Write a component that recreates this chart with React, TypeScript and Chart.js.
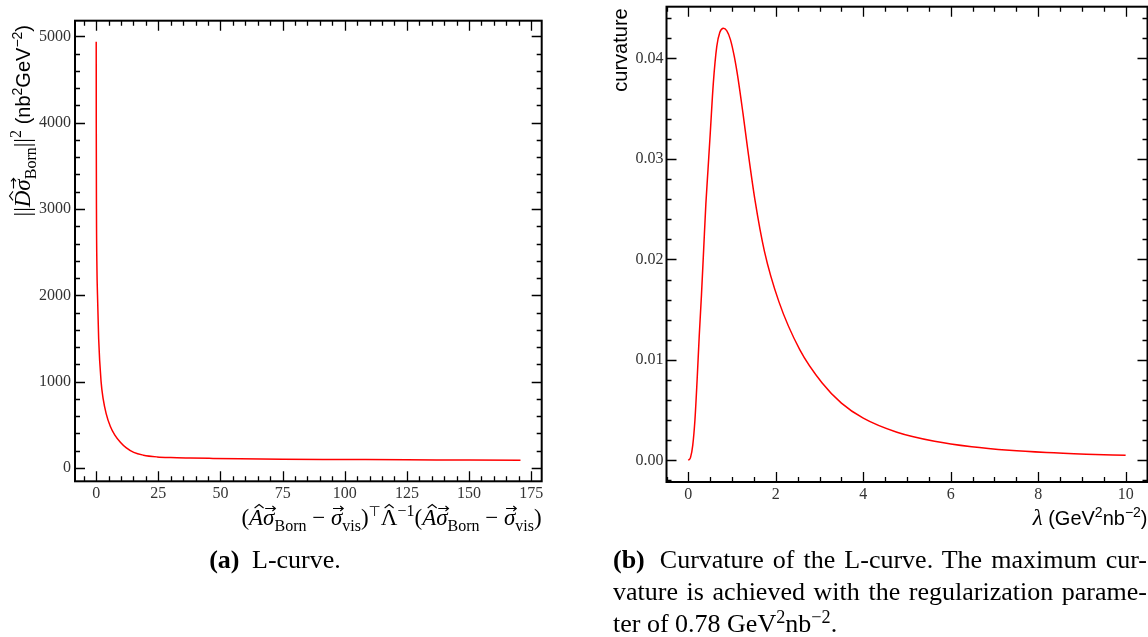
import React, { useEffect, useRef } from 'react';
import { Chart, registerables } from 'chart.js';

Chart.register(...registerables);

// ---------- data ----------
// (a) L-curve: residual term (x) vs regularisation norm (y)
const lcurveResidual = [0, 0.02, 0.1, 0.3, 0.52, 0.98, 1.96, 2.8, 4.0, 5.7, 7.5, 9.8, 12, 15.1, 19, 24.5, 30, 37.8, 47, 57.9, 75, 100, 125, 150, 170.7];
const lcurveNorm = [4939, 4000, 3000, 2300, 2000, 1500, 1000, 800, 630, 480, 380, 295, 235, 180, 148, 128, 120, 115, 111, 107, 102, 98, 94, 91, 88];
const lcurveXTicks = [0, 25, 50, 75, 100, 125, 150, 175];
const lcurveYTicks = [0, 1000, 2000, 3000, 4000, 5000];

// (b) curvature vs lambda
const lambdaValues = [0, 0.05, 0.1, 0.15, 0.2, 0.25, 0.3, 0.35, 0.4, 0.45, 0.5, 0.57, 0.65, 0.72, 0.8, 0.88, 0.96, 1.05, 1.14, 1.25, 1.35, 1.52, 1.74, 2.07, 2.55, 3.06, 3.5, 4.0, 4.77, 5.63, 6.48, 7.34, 8.19, 9.1, 10];
const curvatureValues = [0, 0.0003, 0.0015, 0.004, 0.008, 0.0125, 0.0165, 0.021, 0.0255, 0.029, 0.0325, 0.0375, 0.0412, 0.0426, 0.043, 0.04275, 0.0419, 0.0402, 0.0379, 0.0345, 0.0312, 0.026, 0.0208, 0.0158, 0.011, 0.0077, 0.0057, 0.0042, 0.0028, 0.0019, 0.00135, 0.001, 0.00078, 0.00062, 0.0005];
const curvXTicks = [0, 2, 4, 6, 8, 10];
const curvYTicks = [0, 0.01, 0.02, 0.03, 0.04];
const curvYTickLabels = ['0.00', '0.01', '0.02', '0.03', '0.04'];

// ---------- styling ----------
const SERIF = "'Liberation Serif', 'DejaVu Serif', serif";
const SANS = "'Liberation Sans', 'DejaVu Sans', sans-serif";
const M = 23; // math font size
const SUB = 16; // sub/superscript size
const SF = 20; // sans label size
const SFS = 14;

type Seg = { t: string; font: string; dy?: number; acc?: 'hat' | 'vec'; skew?: number };
const it = (t: string, acc?: 'hat' | 'vec', skew = 0): Seg => ({ t, font: `italic ${M}px ${SERIF}`, acc, skew });
const rm = (t: string, acc?: 'hat' | 'vec', skew = 0): Seg => ({ t, font: `${M}px ${SERIF}`, acc, skew });
const sub = (t: string): Seg => ({ t, font: `${SUB}px ${SERIF}`, dy: 5.5 });
const sup = (t: string): Seg => ({ t, font: `${SUB}px ${SERIF}`, dy: -9 });
const supSym = (t: string): Seg => ({ t, font: `${SUB - 2}px 'DejaVu Sans'`, dy: -9 });
const sf = (t: string): Seg => ({ t, font: `${SF}px ${SANS}` });
const sfsup = (t: string): Seg => ({ t, font: `${SFS}px ${SANS}`, dy: -8 });

const residualGroup: Seg[] = [rm('('), it('A', 'hat', 3), it('σ', 'vec', 1.5), sub('Born'), rm(' − '), it('σ', 'vec', 1.5), sub('vis'), rm(')')];
const leftXTitle: Seg[] = [...residualGroup, supSym('⊤'), rm('Λ', 'hat', 0), sup('−1'), ...residualGroup];
const leftYTitle: Seg[] = [rm('||'), it('D', 'hat', 3), it('σ', 'vec', 1.5), sub('Born'), rm('||'), sup('2'), rm(' '), sf('(nb'), sfsup('2'), sf('GeV'), sfsup('−2'), sf(')')];
const rightXTitle: Seg[] = [it('λ'), sf(' (GeV'), sfsup('2'), sf('nb'), sfsup('−2'), sf(')')];
const rightYTitle: Seg[] = [sf('curvature')];

function drawRich(ctx: CanvasRenderingContext2D, segs: Seg[], x: number, y: number, rotate: boolean) {
  ctx.save();
  ctx.translate(x, y);
  if (rotate) ctx.rotate(-Math.PI / 2);
  ctx.textAlign = 'left';
  ctx.textBaseline = 'alphabetic';
  ctx.fillStyle = '#000';
  ctx.strokeStyle = '#000';
  let total = 0;
  const ws = segs.map((s) => {
    ctx.font = s.font;
    const w = ctx.measureText(s.t).width;
    total += w;
    return w;
  });
  let cx = -total;
  segs.forEach((s, i) => {
    ctx.font = s.font;
    const dy = s.dy || 0;
    ctx.fillText(s.t, cx, dy);
    if (s.acc) {
      const m = ctx.measureText(s.t);
      const top = dy - m.actualBoundingBoxAscent;
      const mid = cx + ws[i] / 2 + (s.skew || 0);
      ctx.lineWidth = 1.1;
      ctx.beginPath();
      if (s.acc === 'hat') {
        const base = top - 2;
        ctx.moveTo(mid - 4.5, base);
        ctx.lineTo(mid, base - 3.5);
        ctx.lineTo(mid + 4.5, base);
      } else {
        const hl = ws[i] * 0.45;
        const yv = top - 3.5;
        ctx.moveTo(mid - hl, yv);
        ctx.lineTo(mid + hl, yv);
        ctx.moveTo(mid + hl - 3, yv - 2.5);
        ctx.lineTo(mid + hl, yv);
        ctx.lineTo(mid + hl - 3, yv + 2.5);
      }
      ctx.stroke();
    }
    cx += ws[i];
  });
  ctx.restore();
}

type PanelCfg = {
  xs: number[];
  ys: number[];
  xTicks: number[];
  yTicks: number[];
  yLabels?: string[];
  xMinor: number;
  yMinor: number;
  canvasLeft: number;
  canvasTop: number;
  W: number;
  H: number;
  area: { l: number; t: number; r: number; b: number };
  xTitle: Seg[];
  yTitle: Seg[];
  xTitlePos: [number, number];
  yTitlePos: [number, number];
  yTickPad: number;
};

function minorValues(min: number, max: number, step: number, majors: number[]) {
  const out: number[] = [];
  const k0 = Math.ceil(min / step);
  const k1 = Math.floor(max / step);
  for (let k = k0; k <= k1; k++) {
    const v = k * step;
    if (!majors.some((m) => Math.abs(m - v) < step * 1e-6)) out.push(v);
  }
  return out;
}

function Panel({ cfg }: { cfg: PanelCfg }) {
  const ref = useRef<HTMLCanvasElement | null>(null);
  useEffect(() => {
    const canvas = ref.current!;
    const xMinD = Math.min(...cfg.xs), xMaxD = Math.max(...cfg.xs);
    const yMinD = Math.min(...cfg.ys), yMaxD = Math.max(...cfg.ys);
    const xm = (xMaxD - xMinD) * 0.05, ym = (yMaxD - yMinD) * 0.05;
    const xMin = xMinD - xm, xMax = xMaxD + xm, yMin = yMinD - ym, yMax = yMaxD + ym;
    const ox = cfg.canvasLeft, oy = cfg.canvasTop;

    const decor = {
      id: 'decor',
      afterDraw(chart: any) {
        const { ctx, chartArea: a, scales } = chart;
        const xs = scales.x, ys = scales.y;
        ctx.save();
        ctx.strokeStyle = '#000';
        ctx.lineWidth = 1.3;
        const xMaj = cfg.xTicks, yMaj = cfg.yTicks;
        const xMin2 = minorValues(xMin, xMax, cfg.xMinor, xMaj);
        const yMin2 = minorValues(yMin, yMax, cfg.yMinor, yMaj);
        ctx.beginPath();
        const vx = (list: number[], len: number) => {
          list.forEach((v) => {
            const p = Math.round(xs.getPixelForValue(v)) + 0.5;
            ctx.moveTo(p, a.bottom);
            ctx.lineTo(p, a.bottom - len);
            ctx.moveTo(p, a.top);
            ctx.lineTo(p, a.top + len);
          });
        };
        const vy = (list: number[], len: number) => {
          list.forEach((v) => {
            const p = Math.round(ys.getPixelForValue(v)) + 0.5;
            ctx.moveTo(a.left, p);
            ctx.lineTo(a.left + len, p);
            ctx.moveTo(a.right, p);
            ctx.lineTo(a.right - len, p);
          });
        };
        vx(xMaj, 10);
        vx(xMin2, 5);
        vy(yMaj, 10);
        vy(yMin2, 5);
        ctx.stroke();
        ctx.lineWidth = 2;
        ctx.strokeRect(a.left, a.top, a.right - a.left, a.bottom - a.top);
        ctx.restore();
        drawRich(ctx, cfg.xTitle, cfg.xTitlePos[0] - ox, cfg.xTitlePos[1] - oy, false);
        drawRich(ctx, cfg.yTitle, cfg.yTitlePos[0] - ox, cfg.yTitlePos[1] - oy, true);
      },
    };

    const tickFont = { family: SERIF, size: 16 };
    const chart = new Chart(canvas, {
      type: 'line',
      data: {
        datasets: [
          {
            data: cfg.xs.map((x, i) => ({ x, y: cfg.ys[i] })),
            borderColor: '#ff0000',
            borderWidth: 1.5,
            pointRadius: 0,
            fill: false,
            cubicInterpolationMode: 'monotone',
          },
        ],
      },
      options: {
        animation: false,
        responsive: false,
        events: [],
        layout: {
          padding: { top: cfg.area.t - oy, right: cfg.W - (cfg.area.r - ox), left: 0, bottom: 0 },
        },
        plugins: { legend: { display: false }, tooltip: { enabled: false } },
        scales: {
          x: {
            type: 'linear',
            min: xMin,
            max: xMax,
            grid: { display: false, drawTicks: false, tickLength: 0 },
            border: { display: false },
            ticks: {
              padding: 3,
              font: tickFont,
              color: '#333',
              maxRotation: 0,
              autoSkip: false,
              includeBounds: false,
              callback: (v: any) => String(v),
            },
            afterBuildTicks: (s: any) => {
              s.ticks = cfg.xTicks.map((v) => ({ value: v }));
            },
            afterFit: (s: any) => {
              s.height = cfg.H - (cfg.area.b - oy);
            },
          },
          y: {
            type: 'linear',
            min: yMin,
            max: yMax,
            grid: { display: false, drawTicks: false, tickLength: 0 },
            border: { display: false },
            ticks: {
              padding: cfg.yTickPad,
              font: tickFont,
              color: '#333',
              autoSkip: false,
              includeBounds: false,
              callback: (v: any, i: number) => (cfg.yLabels ? cfg.yLabels[i] : String(v)),
            },
            afterBuildTicks: (s: any) => {
              s.ticks = cfg.yTicks.map((v) => ({ value: v }));
            },
            afterFit: (s: any) => {
              s.width = cfg.area.l - ox;
            },
          },
        },
      } as any,
      plugins: [decor],
    });
    return () => chart.destroy();
  }, [cfg]);
  return (
    <canvas
      ref={ref}
      width={cfg.W}
      height={cfg.H}
      style={{ position: 'absolute', left: cfg.canvasLeft, top: cfg.canvasTop, width: cfg.W, height: cfg.H }}
    />
  );
}

const leftCfg: PanelCfg = {
  xs: lcurveResidual,
  ys: lcurveNorm,
  xTicks: lcurveXTicks,
  yTicks: lcurveYTicks,
  xMinor: 5,
  yMinor: 200,
  canvasLeft: 0,
  canvasTop: -20,
  W: 560,
  H: 565,
  area: { l: 75, t: 20.7, r: 541.7, b: 481.3 },
  xTitle: leftXTitle,
  yTitle: leftYTitle,
  xTitlePos: [541.7, 525],
  yTitlePos: [30, 25],
  yTickPad: 4,
};

const rightCfg: PanelCfg = {
  xs: lambdaValues,
  ys: curvatureValues,
  xTicks: curvXTicks,
  yTicks: curvYTicks,
  yLabels: curvYTickLabels,
  xMinor: 0.5,
  yMinor: 0.002,
  canvasLeft: 580,
  canvasTop: -20,
  W: 568,
  H: 565,
  area: { l: 666.5, t: 6.7, r: 1147.5, b: 482 },
  xTitle: rightXTitle,
  yTitle: rightYTitle,
  xTitlePos: [1147.5, 525],
  yTitlePos: [626.5, 8.3],
  yTickPad: 3,
};

const capFont: React.CSSProperties = {
  fontFamily: SERIF,
  fontSize: 26,
  lineHeight: '32px',
  color: '#000',
  whiteSpace: 'nowrap',
};
const justified: React.CSSProperties = { textAlign: 'justify', textAlignLast: 'justify' as any };
const supStyle: React.CSSProperties = { fontSize: '0.7em', position: 'relative', top: '-0.5em' };

export default function App() {
  return (
    <div style={{ position: 'absolute', left: 0, top: 0, width: 1148, height: 637, overflow: 'hidden', background: '#fff' }}>
      <Panel cfg={leftCfg} />
      <Panel cfg={rightCfg} />
      <div style={{ ...capFont, position: 'absolute', left: 0, top: 544, width: 550, textAlign: 'center' }}>
        <b style={{ marginRight: 6 }}>(a)</b> L-curve.
      </div>
      <div style={{ ...capFont, position: 'absolute', left: 613, top: 544, width: 534 }}>
        <div style={justified}>
          <b style={{ marginRight: 6 }}>(b)</b> Curvature of the L-curve. The maximum cur-
        </div>
        <div style={justified}>vature is achieved with the regularization parame-</div>
        <div>
          ter of 0.78 GeV<span style={supStyle}>2</span>nb<span style={supStyle}>−2</span>.
        </div>
      </div>
    </div>
  );
}
